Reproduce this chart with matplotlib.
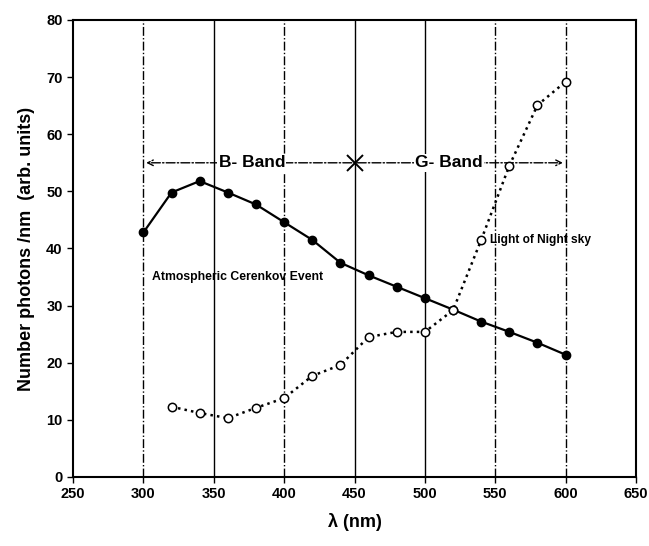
import matplotlib
matplotlib.use('Agg')
import matplotlib.pyplot as plt

plt.rcParams['font.family'] = ['Liberation Sans', 'DejaVu Sans']

# wavelength (nm)
wl = [300, 320, 340, 360, 380, 400, 420, 440, 460, 480, 500, 520, 540, 560, 580, 600]
cerenkov = [42.8, 49.8, 51.8, 49.8, 47.7, 44.6, 41.5, 37.5, 35.3, 33.3, 31.3, 29.3, 27.2, 25.4, 23.5, 21.4]

wl_sky = [320, 340, 360, 380, 400, 420, 440, 460, 480, 500, 520, 540, 560, 580, 600]
night_sky = [12.3, 11.2, 10.3, 12.1, 13.8, 17.7, 19.6, 24.5, 25.4, 25.4, 29.2, 41.5, 54.5, 65.1, 69.2]

grid_x = [300, 350, 400, 450, 500, 550, 600]
grid_style = ['-.', '-', '-.', '-', '-', '-.', '-.']

fig = plt.figure(figsize=(6.49, 5.46), dpi=100)
ax = fig.add_axes([0.1125, 0.1264, 0.8675, 0.837])

for gx, ls in zip(grid_x, grid_style):
    ax.axvline(gx, color='black', lw=1.0, ls=ls, zorder=1)

ax.plot(wl, cerenkov, '-', color='black', lw=1.6, marker='o', ms=6,
        mfc='black', mec='black', zorder=3)
ax.plot(wl_sky, night_sky, ':', color='black', lw=1.8, marker='o', ms=6,
        mfc='white', mec='black', mew=1.1, zorder=4)

# band arrows
band_y = 55
ax.annotate('', xy=(300, band_y), xytext=(450, band_y),
            arrowprops=dict(arrowstyle='->', ls='-.', lw=1.0, color='black'))
ax.annotate('', xy=(600, band_y), xytext=(450, band_y),
            arrowprops=dict(arrowstyle='->', ls='-.', lw=1.0, color='black'))
ax.plot([450], [band_y], marker='x', ms=11, mew=1.4, color='black', zorder=5)
ax.text(377, band_y, 'B- Band', ha='center', va='center', fontsize=12.5,
        fontweight='bold', bbox=dict(fc='white', ec='none', pad=1))
ax.text(517, band_y, 'G- Band', ha='center', va='center', fontsize=12.5,
        fontweight='bold', bbox=dict(fc='white', ec='none', pad=1))

ax.text(306, 35, 'Atmospheric Cerenkov Event', ha='left', va='center',
        fontsize=8.8, fontweight='bold')
ax.text(546, 41.5, 'Light of Night sky', ha='left', va='center',
        fontsize=8.6, fontweight='bold')

ax.set_xlim(250, 650)
ax.set_ylim(0, 80)
ax.set_xticks(range(250, 651, 50))
ax.set_yticks(range(0, 81, 10))
ax.tick_params(direction='out', length=4, width=1, labelsize=10.5)
for lab in ax.get_xticklabels() + ax.get_yticklabels():
    lab.set_fontweight('bold')
for sp in ax.spines.values():
    sp.set_linewidth(1.5)

ax.set_xlabel('λ (nm)', fontsize=13, fontweight='bold', labelpad=8)
ax.set_ylabel('Number photons /nm  (arb. units)', fontsize=13,
              fontweight='bold', labelpad=8)

fig.savefig('out.png', dpi=100)
